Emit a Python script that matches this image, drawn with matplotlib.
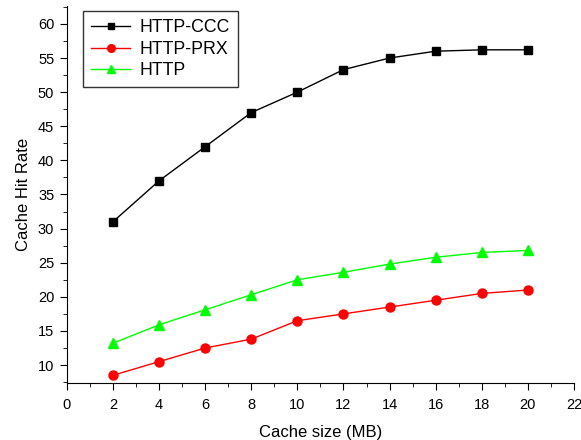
import matplotlib
matplotlib.use("Agg")
import matplotlib.pyplot as plt
from matplotlib.ticker import MultipleLocator

plt.rcParams['font.family'] = ['Liberation Sans', 'DejaVu Sans']

cache_size = [2, 4, 6, 8, 10, 12, 14, 16, 18, 20]
http_ccc = [31.0, 37.0, 42.0, 47.0, 50.0, 53.3, 55.0, 56.0, 56.2, 56.2]
http_prx = [8.5, 10.5, 12.5, 13.8, 16.5, 17.5, 18.5, 19.5, 20.5, 21.0]
http = [13.2, 15.9, 18.1, 20.3, 22.5, 23.6, 24.8, 25.8, 26.5, 26.8]

fig = plt.figure(figsize=(5.81, 4.40), dpi=100)
ax = fig.add_axes([0.115, 0.13, 0.873, 0.856])

ax.plot(cache_size, http_ccc, color='black', marker='s', markersize=5.5, linewidth=1, label='HTTP-CCC')
ax.plot(cache_size, http_prx, color='red', marker='o', markersize=6.5, linewidth=1, label='HTTP-PRX')
ax.plot(cache_size, http, color='#00ff00', marker='^', markersize=7, linewidth=1, label='HTTP')

ax.set_xlim(0, 22)
ax.set_ylim(7.4, 62.6)
ax.xaxis.set_major_locator(MultipleLocator(2))
ax.xaxis.set_minor_locator(MultipleLocator(1))
ax.set_yticks(range(10, 61, 5))
ax.yaxis.set_minor_locator(MultipleLocator(2.5))

for s in ['top', 'right']:
    ax.spines[s].set_visible(False)
ax.tick_params(which='major', direction='out', length=5, labelsize=10.5)
ax.tick_params(axis='x', which='major', pad=6)
ax.tick_params(axis='y', which='major', pad=4)
ax.tick_params(which='minor', direction='out', length=3)

ax.set_xlabel('Cache size (MB)', fontsize=12, labelpad=9)
ax.set_ylabel('Cache Hit Rate', fontsize=12, labelpad=5)

leg = ax.legend(loc='upper left', bbox_to_anchor=(0.015, 1.01), fontsize=12.8, frameon=True,
                fancybox=False, edgecolor='black', borderpad=0.45, handlelength=2.2,
                handletextpad=0.5, labelspacing=0.25, markerscale=0.85)
leg.get_frame().set_linewidth(1)

fig.savefig('out.png', dpi=100)
